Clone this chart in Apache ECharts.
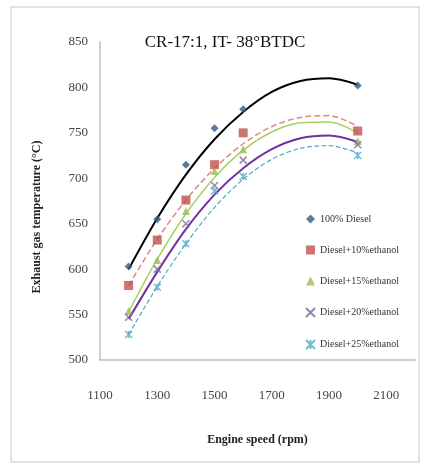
<!DOCTYPE html>
<html>
<head>
<meta charset="utf-8">
<script src="https://cdn.jsdelivr.net/npm/echarts@6/dist/echarts.min.js"></script>
<style>
  html, body { margin: 0; padding: 0; background: #fff; }
  #chart { width: 426px; height: 466px; }
</style>
</head>
<body>
<div id="chart"></div>
<script>
// measured points (rpm)
const speeds = [1200, 1300, 1400, 1500, 1600, 2000];
const diesel = [603, 655, 715, 755, 776, 802];
const eth10 = [582, 632, 676, 715, 750, 752];
const eth15 = [554, 610, 664, 708, 732, 741];
const eth20 = [547, 600, 650, 692, 720, 737];
const eth25 = [528, 580, 628, 686, 702, 725];

// trend curves
const trendSpeeds = [1200, 1300, 1400, 1500, 1600, 1700, 1800, 1900, 2000];
const dieselTrend = [600, 656, 704, 743, 773, 795, 807, 810, 803];
const eth10Trend = [582, 633, 676, 711, 738, 757, 767, 769, 757];
const eth15Trend = [553, 611, 661, 701, 731, 751, 761, 762, 750];
const eth20Trend = [545, 597, 644, 682, 711, 732, 744, 747, 740];
const eth25Trend = [528, 581, 628, 668, 699, 721, 733, 736, 728];

const names = ['100% Diesel', 'Diesel+10%ethanol', 'Diesel+15%ethanol', 'Diesel+20%ethanol', 'Diesel+25%ethanol'];
const xTicks = [1100, 1300, 1500, 1700, 1900, 2100];

const serif = '"Liberation Serif", "DejaVu Serif", serif';
const cross = 'path://M0,0L10,10M10,0L0,10';
const star = 'path://M0,0L10,10M10,0L0,10M5,0L5,10';

const pts = vals => speeds.map((s, i) => [s, vals[i]]);
const tr = vals => trendSpeeds.map((s, i) => [s, vals[i]]);

const marks = [
    { data: diesel, color: '#2f5d86', symbol: 'diamond', size: 8 },
    { data: eth10, color: '#c0504d', symbol: 'rect', size: 9 },
    { data: eth15, color: '#9bbb59', symbol: 'triangle', size: 8 },
    { data: eth20, color: '#8064a2', symbol: cross, size: 7 },
    { data: eth25, color: '#4bacc6', symbol: star, size: 7 },
];
const trends = [
    { data: dieselTrend, color: '#000000', type: 'solid', width: 2 },
    { data: eth10Trend, color: '#e0877e', type: 'dashed', width: 1.5 },
    { data: eth15Trend, color: '#a6d060', type: 'solid', width: 1.5 },
    { data: eth20Trend, color: '#7030a0', type: 'solid', width: 2 },
    { data: eth25Trend, color: '#4bacc6', type: 'dashed', width: 1.2 },
];

const series = [];
trends.forEach(t => {
    series.push({
        type: 'line',
        data: tr(t.data),
        smooth: 0.3,
        showSymbol: false,
        silent: true,
        lineStyle: { color: t.color, type: t.type, width: t.width },
        z: 2
    });
});
marks.forEach((m, i) => {
    const isPath = m.symbol.indexOf('path://') === 0;
    series.push({
        name: names[i],
        type: 'scatter',
        data: pts(m.data),
        symbol: m.symbol,
        symbolSize: m.size,
        itemStyle: isPath
            ? { color: 'transparent', borderColor: m.color, borderWidth: 1.5 }
            : { color: m.color },
        z: 3
    });
});

const chart = echarts.init(document.getElementById('chart'));
chart.setOption({
    animation: false,
    backgroundColor: '#fff',
    title: {
        text: 'CR-17:1, IT- 38°BTDC',
        left: 220,
        top: 29,
        textAlign: 'center',
        textStyle: { fontFamily: serif, fontSize: 17, fontWeight: 'normal', color: '#111' }
    },
    legend: {
        data: names,
        orient: 'vertical',
        left: 300,
        top: 209,
        itemGap: 21,
        itemWidth: 9,
        itemHeight: 9,
        textStyle: { fontFamily: serif, fontSize: 10, color: '#333' }
    },
    grid: { left: 100, right: 11, top: 42, bottom: 106 },
    xAxis: {
        type: 'value',
        min: 1100,
        max: 2200,
        interval: 200,
        name: 'Engine speed (rpm)',
        nameLocation: 'middle',
        nameGap: 74,
        nameTextStyle: { fontFamily: serif, fontSize: 12, fontWeight: 'bold', color: '#222' },
        axisLine: { lineStyle: { color: '#bfbfbf', width: 1.5 } },
        axisTick: { show: false },
        splitLine: { show: false },
        axisLabel: {
            margin: 29,
            showMaxLabel: false,
            fontFamily: serif,
            fontSize: 13,
            color: '#444',
            formatter: v => (xTicks.indexOf(v) >= 0 ? String(v) : '')
        }
    },
    yAxis: {
        type: 'value',
        min: 500,
        max: 850,
        interval: 50,
        axisLine: { show: true, lineStyle: { color: '#bfbfbf', width: 1.5 } },
        axisTick: { show: false },
        splitLine: { show: false },
        axisLabel: { margin: 12, fontFamily: serif, fontSize: 13, color: '#444' }
    },
    graphic: [
        {
            type: 'rect',
            shape: { x: 11, y: 7, width: 408, height: 455 },
            style: { fill: 'none', stroke: '#d9d9d9', lineWidth: 1.5 },
            silent: true
        },
        {
            type: 'text',
            x: 37,
            y: 217,
            rotation: Math.PI / 2,
            style: {
                text: 'Exhaust gas temperature (°C)',
                fontFamily: serif,
                fontSize: 12,
                fontWeight: 'bold',
                fill: '#222',
                align: 'center',
                verticalAlign: 'middle'
            }
        }
    ],
    series: series
});
</script>
</body>
</html>
